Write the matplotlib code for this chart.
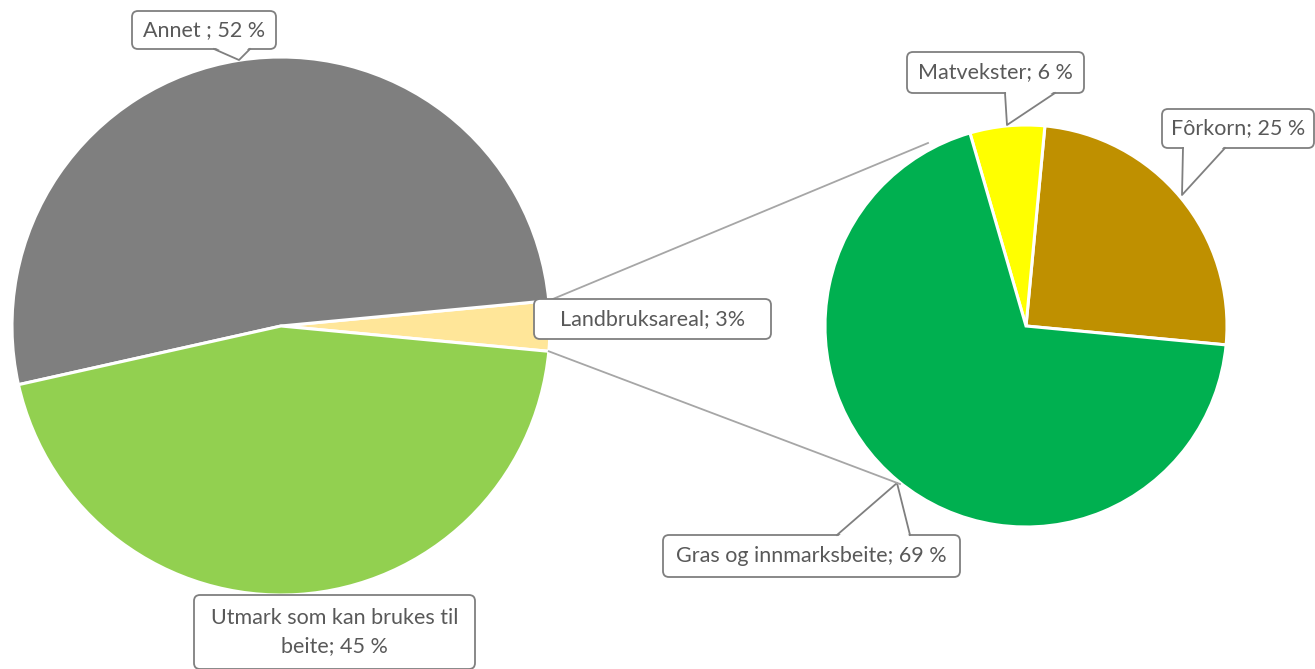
import numpy as np
import matplotlib
matplotlib.use("Agg")
import matplotlib.pyplot as plt
from matplotlib.patches import FancyBboxPatch, Polygon

plt.rcParams['font.family'] = ['Lato', 'DejaVu Sans']

# data
main_labels = ['Landbruksareal', 'Annet', 'Utmark som kan brukes til beite']
main_values = [3, 52, 45]
main_colors = ['#FFE699', '#7F7F7F', '#92D050']

sub_labels = ['Fôrkorn', 'Matvekster', 'Gras og innmarksbeite']
sub_values = [25, 6, 69]
sub_colors = ['#BF9000', '#FFFF00', '#00B050']

W, H = 1315, 669
fig = plt.figure(figsize=(W / 100, H / 100), dpi=100)
ax = fig.add_axes([0, 0, 1, 1])

def Y(y):
    # pixel row -> data y
    return H - y

start = -main_values[0] / 100 * 360 / 2
c1, r1 = (281, Y(326)), 269
c2, r2 = (1026, Y(326)), 201
ax.pie(main_values, colors=main_colors, startangle=start, center=c1, radius=r1,
       wedgeprops=dict(edgecolor='white', linewidth=2.2), frame=True)
ax.pie(sub_values, colors=sub_colors, startangle=start, center=c2, radius=r2,
       wedgeprops=dict(edgecolor='white', linewidth=2.2), frame=True)
ax.set_xlim(0, W)
ax.set_ylim(0, H)
ax.set_aspect('equal')
ax.axis('off')

# connector lines from the small slice to the second pie
a = np.deg2rad(start)
p_top = (c1[0] + r1 * np.cos(-a), c1[1] + r1 * np.sin(-a))
p_bot = (c1[0] + r1 * np.cos(a), c1[1] + r1 * np.sin(a))
ax.plot([p_top[0], 928], [p_top[1], Y(143)], color='#A6A6A6', lw=1.3, zorder=4)
ax.plot([p_bot[0], 900], [p_bot[1], Y(484)], color='#A6A6A6', lw=1.3, zorder=6.5)

edge = '#7F7F7F'
txt = '#595959'

def callout(x0, y0, x1, y1, text, ptr=None):
    box = FancyBboxPatch((x0, Y(y1)), x1 - x0, y1 - y0,
                         boxstyle='round,pad=0,rounding_size=6',
                         fc='white', ec=edge, lw=1.3, zorder=5)
    ax.add_patch(box)
    if ptr is not None:
        bx0, bx1, tx, ty = ptr
        by = y1 if ty > y1 else y0          # side of the box the pointer leaves from
        inset = 1.5 if ty > y1 else -1.5
        ax.add_patch(Polygon([(bx0 + 1, Y(by) + inset), (bx1 - 1, Y(by) + inset), (tx, Y(ty))],
                             closed=True, fc='white', ec='none', zorder=6))
        ax.plot([bx0, tx, bx1], [Y(by), Y(ty), Y(by)], color=edge, lw=1.3, zorder=6)
    ax.text((x0 + x1) / 2, Y((y0 + y1) / 2), text, ha='center', va='center',
            color=txt, fontsize=15.5, zorder=7, linespacing=1.5)

callout(132, 11, 276, 49, 'Annet ; 52 %', (214, 250, 239, 60))
callout(534, 299, 771, 339, 'Landbruksareal; 3%')
callout(194, 595, 475, 669, 'Utmark som kan brukes til\nbeite; 45 %')
callout(907, 52, 1084, 93, 'Matvekster; 6 %', (1005, 1055, 1007, 125))
callout(1162, 109, 1314, 148, 'Fôrkorn; 25 %', (1183, 1225, 1182, 195))
callout(663, 535, 960, 577, 'Gras og innmarksbeite; 69 %', (837, 910, 897, 483))

fig.savefig('out.png', dpi=100)
